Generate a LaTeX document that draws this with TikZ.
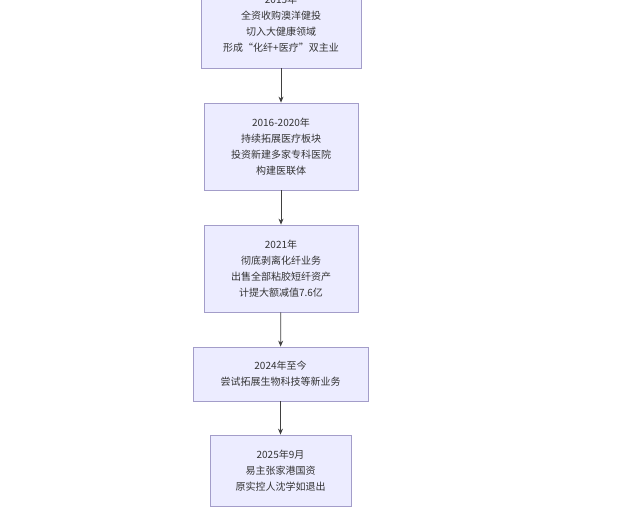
\documentclass[tikz,border=0pt]{standalone}
\usepackage{fontspec}
\setmainfont{Noto Sans CJK SC}
\usetikzlibrary{arrows.meta}
\definecolor{bx}{HTML}{ECECFF}
\definecolor{bd}{HTML}{A39DC9}
\begin{document}
\begin{tikzpicture}[x=1pt,y=-1pt,
 box/.style={draw=bd,fill=bx,line width=0.8pt,align=center,font=\fontsize{10}{16}\selectfont,text=black!80,inner sep=0pt},
 ar/.style={draw=black!75,line width=0.8pt,-{Stealth[length=6pt,width=5pt]}}]
\useasboundingbox (0,0) rectangle (627,527);
\node[box,minimum width=160pt,minimum height=88pt] (a) at (281,24) {2015年\\全资收购澳洋健投\\切入大健康领域\\形成“化纤+医疗”双主业};
\node[box,minimum width=154pt,minimum height=87pt] (b) at (281,146.5) {2016-2020年\\持续拓展医疗板块\\投资新建多家专科医院\\构建医联体};
\node[box,minimum width=154pt,minimum height=87pt] (c) at (281,268.5) {2021年\\彻底剥离化纤业务\\出售全部粘胶短纤资产\\计提大额减值7.6亿};
\node[box,minimum width=175pt,minimum height=54pt] (d) at (280.5,374) {2024年至今\\尝试拓展生物科技等新业务};
\node[box,minimum width=141pt,minimum height=71pt] (e) at (280.5,470.5) {2025年9月\\易主张家港国资\\原实控人沈学如退出};
\draw[ar] (a) -- (b);
\draw[ar] (b) -- (c);
\draw[ar] (c) -- (d);
\draw[ar] (d) -- (e);
\end{tikzpicture}
\end{document}
